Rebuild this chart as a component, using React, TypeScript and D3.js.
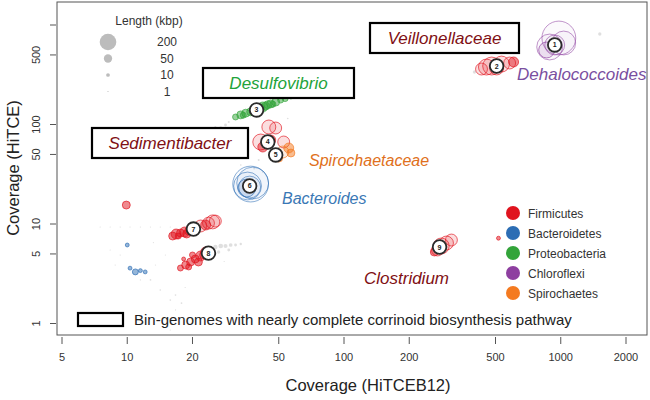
import * as d3 from "d3";

// [coverage HiTCEB12, coverage HiTCE, length kbp]
type Pt = [number, number, number];

const firmicutes: Pt[] = [
  [454, 378, 184], [480, 387, 233], [533, 405, 184], [581, 415, 103], [606, 425, 72], [431, 361, 103], [506, 370, 141],
  [41.3, 66.7, 184], [45.0, 94.4, 141], [48.4, 92.2, 103], [52.7, 66.7, 103], [42.2, 59.4, 72], [45.9, 69.9, 72],
  [16.2, 7.57, 46], [16.8, 7.93, 72], [17.6, 8.12, 46], [18.4, 8.31, 72], [19.2, 8.51, 46], [20.6, 9.12, 72],
  [21.8, 9.55, 103], [23.0, 9.77, 72], [23.7, 10.2, 103], [24.8, 10.5, 141], [25.5, 10.7, 103], [17.2, 7.57, 26], [18.8, 7.93, 46],
  [17.6, 3.61, 26], [18.6, 3.87, 46], [19.6, 4.15, 46], [20.6, 4.45, 46], [21.8, 4.77, 72], [23.0, 5.23, 72],
  [19.2, 3.7, 26], [21.3, 4.15, 46], [18.2, 4.45, 11], [20.0, 4.88, 26], [22.5, 4.88, 46],
  [281, 6.01, 184], [297, 6.44, 141], [313, 6.9, 103], [270, 5.48, 103], [261, 5.23, 46],
  [9.9, 15.5, 46], [516, 7.2, 11],
];
const bacteroidetes: Pt[] = [
  [37.1, 25.2, 930], [35.9, 24.1, 563], [36.7, 23.5, 348], [37.9, 25.8, 735], [35.6, 23.0, 233],
  [10, 6.15, 11], [10.3, 3.6, 11], [10.9, 3.3, 26], [11.5, 3.4, 11], [12.1, 3.3, 11],
];
const proteobacteria: Pt[] = [
  [31.6, 119, 26], [33.4, 125, 46], [35.2, 130, 46], [37.1, 134, 46], [39.1, 140, 46], [41.3, 147, 46],
  [43.5, 153, 46], [45.9, 161, 46], [48.4, 168, 46], [51.0, 176, 26], [42.2, 150, 72], [44.5, 158, 46],
  [53.5, 182, 26], [56.9, 189, 11], [34.3, 124, 26], [38.0, 132, 26], [47.0, 160, 26], [40.0, 148, 26],
];
const chloroflexi: Pt[] = [
  [980, 740, 830], [889, 601, 485], [938, 630, 287], [861, 561, 184], [1032, 659, 413],
];
const spirochaetes: Pt[] = [
  [55.6, 58.1, 72], [52.2, 52.9, 103], [50.0, 46.0, 46], [56.9, 51.7, 46],
];
const unassigned: Pt[] = [
  [24.2, 5.74, 12], [25.5, 5.87, 14], [27.0, 6.01, 16], [28.4, 6.01, 12], [30.0, 6.15, 10], [31.6, 6.15, 6],
  [26.4, 5.23, 8], [29.4, 5.48, 6], [33.4, 6.3, 4], [23.0, 5.6, 10],
  [21.8, 78.4, 4], [24.2, 83.9, 6], [27.0, 92.2, 8], [28.4, 98.9, 6], [26.1, 88, 4], [29.4, 106, 3], [25.5, 94.4, 3],
  [40.4, 44.0, 3], [42.2, 33.3, 2], [33.4, 39.2, 2], [38.5, 36, 2], [63.2, 19.6, 2], [59.9, 17.4, 2], [55, 115, 2],
  [12.8, 2.74, 2], [14.2, 2.17, 2], [15.8, 1.72, 2], [16.7, 1.93, 2], [11.5, 2.74, 1], [13.5, 3.87, 1],
  [15.0, 4.88, 1], [9.28, 4.88, 1], [8.34, 5.48, 1], [8.8, 3.87, 1], [16.7, 1.37, 1], [15.8, 0.86, 1],
  [17.8, 1.6, 2], [18.5, 2.3, 1], [13.2, 6.5, 1], [28, 4.2, 1],
  [400, 337, 8], [1514, 812, 8],
  [7.5, 9.33, 0.5], [8.34, 9.33, 0.5], [9.28, 9.33, 0.5], [10.3, 9.33, 0.5], [11.5, 9.33, 0.5], [12.8, 9.33, 0.5], [14.2, 9.33, 0.5], [15.8, 9.33, 0.5],
];

const phyla = ["Firmicutes", "Bacteroidetes", "Proteobacteria", "Chloroflexi", "Spirochaetes"];
const phylumColors = ["#e0141e", "#2c6db4", "#33a43a", "#8e3fa0", "#f47a20"];
const phylumData = [firmicutes, bacteroidetes, proteobacteria, chloroflexi, spirochaetes];

const bins: [number, number, number][] = [
  [1, 938, 630], [2, 506, 387], [3, 39.5, 140], [4, 44.5, 66.7], [5, 48.4, 49.4],
  [6, 36.7, 24.1], [7, 20.2, 8.9], [8, 23.7, 5.1], [9, 276, 5.87],
];

const xTicks = [5, 10, 20, 50, 100, 200, 500, 1000, 2000];
const yTicks = [1, 5, 10, 50, 100, 500, 1000];
const yTickLabels = ["1", "5", "10", "50", "100", "500", ""];
const sizeLegend = [200, 50, 10, 1];

const FONT = "'Liberation Sans', Arial, Helvetica, sans-serif";

export default function App() {
  const x = d3.scaleLog().domain([5, 2000]).range([62, 626]);
  const y = d3.scaleLog().domain([1, 1000]).range([323.5, 25]);
  const r = d3.scaleSqrt().domain([0, 200]).range([0, 8.3]);

  const box = { x0: 57, y0: 2, x1: 647, y1: 335 };

  // large contigs read as rings, small ones as dots
  const fillOp = (rad: number) => (rad > 9 ? 0.03 : rad > 5.5 ? 0.14 : 0.5);

  const labelBox = (cx: number, cy: number, w: number, h: number, text: string, color: string) => (
    <g>
      <rect x={cx - w / 2} y={cy - h / 2} width={w} height={h} fill="white" stroke="black" strokeWidth={2.2} />
      <text x={cx} y={cy + 6} textAnchor="middle" fontStyle="italic" fontSize={17} fill={color}>{text}</text>
    </g>
  );

  return (
    <svg width={650} height={400} style={{ position: "absolute", left: 0, top: 0 }} fontFamily={FONT}>
      <rect width={650} height={400} fill="white" />
      <rect x={box.x0} y={box.y0} width={box.x1 - box.x0} height={box.y1 - box.y0} fill="none" stroke="#555" strokeWidth={1} />

      {/* x axis */}
      <g>
        {xTicks.map((t) => (
          <g key={t}>
            <line x1={x(t)} x2={x(t)} y1={337} y2={344} stroke="#555" />
            <text x={x(t)} y={361} textAnchor="middle" fontSize={11} fill="#333">{t}</text>
          </g>
        ))}
        <text x={368} y={391} textAnchor="middle" fontSize={16.5} fill="#222">Coverage (HiTCEB12)</text>
      </g>

      {/* y axis */}
      <g>
        {yTicks.map((t, i) => (
          <g key={t}>
            <line x1={50} x2={56} y1={y(t)} y2={y(t)} stroke="#555" />
            <text transform={`translate(40,${y(t)}) rotate(-90)`} textAnchor="middle" fontSize={11} fill="#333">{yTickLabels[i]}</text>
          </g>
        ))}
        <text transform="translate(19,168) rotate(-90)" textAnchor="middle" fontSize={16.5} fill="#222">Coverage (HiTCE)</text>
      </g>

      {/* unassigned contigs */}
      {unassigned.map((d, i) => (
        <circle key={i} cx={x(d[0])} cy={y(d[1])} r={Math.max(r(d[2]), 0.6)} fill="#9a9a9a" fillOpacity={0.32} />
      ))}

      {/* phylum-coloured bins */}
      {phylumData.map((arr, k) => (
        <g key={k}>
          {arr.map((d, i) => {
            const rad = r(d[2]);
            return (
              <circle key={i} cx={x(d[0])} cy={y(d[1])} r={rad} fill={phylumColors[k]} fillOpacity={fillOp(rad)}
                stroke={phylumColors[k]} strokeOpacity={rad > 9 ? 0.55 : 0.65} strokeWidth={1} />
            );
          })}
        </g>
      ))}

      {/* numbered bin markers */}
      {bins.map(([id, bx, by]) => (
        <g key={id}>
          <circle cx={x(bx)} cy={y(by)} r={6.8} fill="white" stroke="#2a2a2a" strokeWidth={1.8} />
          <text x={x(bx)} y={y(by) + 2.5} textAnchor="middle" fontSize={7} fontWeight="bold" fill="#222">{id}</text>
        </g>
      ))}

      {/* taxon annotations */}
      {labelBox(444.5, 38, 149, 30, "Veillonellaceae", "#7f1014")}
      {labelBox(278.5, 83, 151, 30, "Desulfovibrio", "#23a33a")}
      {labelBox(170, 143, 156, 30, "Sedimentibacter", "#7f1014")}
      <text x={517} y={80} fontStyle="italic" fontSize={17} fill="#7a4fa0">Dehalococcoides</text>
      <text x={309} y={166} fontStyle="italic" fontSize={16} fill="#e07020">Spirochaetaceae</text>
      <text x={282} y={204} fontStyle="italic" fontSize={16} fill="#3a78b5">Bacteroides</text>
      <text x={364} y={284} fontStyle="italic" fontSize={17} fill="#7f1014">Clostridium</text>

      {/* size legend */}
      <text x={149} y={25} textAnchor="middle" fontSize={12} fill="#333">Length (kbp)</text>
      {sizeLegend.map((L, i) => (
        <g key={L}>
          <circle cx={108} cy={42 + i * 16.5} r={Math.max(r(L), 0.6)} fill="#bcbcbc" />
          <text x={167} y={46 + i * 16.5} textAnchor="middle" fontSize={12} fill="#333">{L}</text>
        </g>
      ))}

      {/* phylum legend */}
      {phyla.map((p, i) => (
        <g key={p}>
          <circle cx={513} cy={213 + i * 20} r={7} fill={phylumColors[i]} />
          <text x={528} y={217.5 + i * 20} fontSize={12} fill="#333">{p}</text>
        </g>
      ))}

      {/* pathway legend */}
      <rect x={78} y={313} width={45} height={13} fill="white" stroke="black" strokeWidth={2.2} />
      <text x={134} y={325} fontSize={15} fill="#222">Bin-genomes with nearly complete corrinoid biosynthesis pathway</text>
    </svg>
  );
}
